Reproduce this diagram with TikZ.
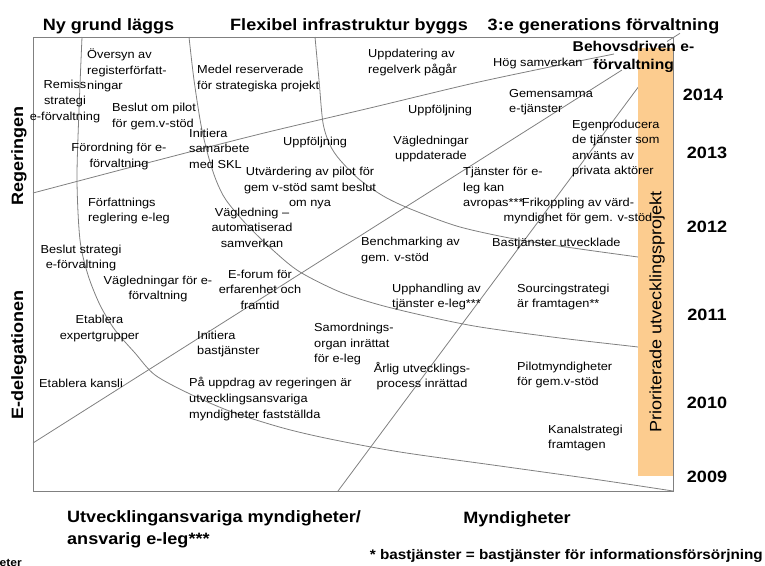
\documentclass[tikz,border=0pt]{standalone}
\usepackage{fontspec}
\setmainfont{Liberation Sans}[FakeStretch=1.1]
\definecolor{linegray}{RGB}{128,128,128}
\definecolor{prioorange}{RGB}{252,204,143}
\newcommand{\notefont}{\fontsize{11.6}{15.6}\selectfont}
\newcommand{\headfont}{\bfseries\fontsize{16.4}{22}\selectfont}
\tikzset{
	note/.style={inner sep=0pt, font=\notefont, align=left, anchor=west},
	cnote/.style={note, align=center, anchor=center},
	head/.style={inner sep=0pt, font=\headfont, anchor=base},
	actor/.style={inner sep=0pt, font=\headfont, rotate=90},
	year/.style={inner sep=0pt, font=\headfont, anchor=base},
	divider/.style={draw=linegray, line width=0.8pt},
	priobar/.style={fill=prioorange, draw=none}
}

\begin{document}
\begin{tikzpicture}[x=1pt,y=-1pt]
		\useasboundingbox (0,0) rectangle (765,565);
		
		%%%frame corners
		\coordinate (fnw) at (33,37);
		\coordinate (fse) at (673,491);
		
		%%%phase curves
		\draw[divider] plot[smooth] coordinates {(82,37) (79,110) (77,180) (80,240) (88,275) (100,305) (115,330) (135,353) (155,375) (190,394) (232,412) (283,428) (330,439) (400,452) (500,466) (600,480) (673,491)};
		\draw[divider] plot[smooth] coordinates {(189,37) (194,80) (201,125) (208,155) (216,180) (226,200) (247,225) (275,252) (300,272) (340,292) (380,305) (430,317) (480,327) (560,338) (638,347) (660,350)};
		\draw[divider] plot[smooth] coordinates {(315,37) (319,80) (323,123) (330,145) (340,160) (360,180) (385,197) (413,210) (460,227) (520,240) (580,249) (638,257) (660,260)};
		
		%%%actor lines
		\draw[divider] plot[smooth] coordinates {(33,193) (147,163) (260,134) (370,108) (470,84) (545,68) (614,54)};
		\coordinate (b0) at (33,443);
		\coordinate (b1) at (622,70);
		\coordinate (b2) at (667,41.5);
		\coordinate (b3) at (680,33.3);
		\draw[divider] (b0) -- (b1) (b2) -- (b3);
		\coordinate (c0) at (338,491);
		\coordinate (c1) at (645,78);
		\draw[divider] (c0) -- (c1);
		
		%%%prioriterade
		\fill[priobar] (638,48) rectangle (672.5,476);
		\draw[divider] (fnw) rectangle (fse);
		\node[inner sep=0pt, font=\fontsize{16.4}{18}\selectfont, rotate=90] (prio) at (657,312) {Prioriterade utvecklingsprojekt};
		
		%%%headings
		\node[head] (nygrund) at (108.5,30) {Ny grund läggs};
		\node[head] (flexibel) at (349,30) {Flexibel infrastruktur byggs};
		\node[head] (tredje) at (603.5,30) {3:e generations förvaltning};
		\node[inner sep=0pt, font=\bfseries\fontsize{14.2}{18}\selectfont, align=center] (behov) at (633.5,57.3) {Behovsdriven e-\\förvaltning};
		\node[actor] (regeringen) at (19,156) {Regeringen};
		\node[actor] (edeleg) at (19,355) {E-delegationen};
		\node[head, anchor=west, align=left] (utvansv) at (67,529.7) {Utvecklingansvariga myndigheter/\\ansvarig e-leg***};
		\node[head] (myndigheter) at (517,523) {Myndigheter};
		\node[inner sep=0pt, font=\bfseries\fontsize{13.9}{16}\selectfont, anchor=base east] (fotnot) at (763,559) {* bastjänster = bastjänster för informationsförsörjning};
		\node[inner sep=0pt, font=\bfseries\fontsize{11}{13}\selectfont, anchor=base east] (eter) at (22,566) {eter};
		
		\foreach \yr/\xx/\yy in {2014/703/100, 2013/707/158, 2012/707/232.5, 2011/707/320, 2010/707/408, 2009/707/482}
			\node[year] (y\yr) at (\xx,\yy) {\yr};
		
		%%%Ny grund
		\node[note] (oversyn) at (87,70.5) {Översyn av\\registerförfatt-\\ningar};
		\node[cnote] (remiss) at (65,101.5) {Remiss\\strategi\\e-förvaltning};
		\node[note] (beslutpilot) at (112,116.5) {Beslut om pilot\\för gem.v-stöd};
		\node[cnote] (forordning) at (119,156.5) {Förordning för e-\\förvaltning};
		\node[note] (forfattning) at (88,211) {Författnings\\reglering e-leg};
		\node[cnote] (beslutstrat) at (81,258) {Beslut strategi\\e-förvaltning};
		\node[cnote] (vagledn) at (158,289) {Vägledningar för e-\\förvaltning};
		\node[cnote] (expert) at (99.5,328.5) {Etablera\\expertgrupper};
		\node[note] (kansli) at (39,383) {Etablera kansli};
		
		%%%Flexibel infrastruktur
		\node[note] (initskl) at (189,148.5) {Initiera\\samarbete\\med SKL};
		\node[note] (medel) at (197,78.5) {Medel reserverade\\för strategiska projekt};
		\node[note] (uppf1) at (283,142) {Uppföljning};
		\node[cnote] (utvard) at (310,188) {Utvärdering av pilot för\\gem v-stöd samt beslut\\om nya};
		\node[cnote] (autosam) at (252,227.5) {Vägledning –\\automatiserad\\samverkan};
		\node[cnote] (eforum) at (260,289.5) {E-forum för\\erfarenhet och\\framtid};
		\node[note] (initbas) at (197,344) {Initiera\\bastjänster};
		\node[note] (uppdrag) at (189,399) {På uppdrag av regeringen är\\utvecklingsansvariga\\myndigheter fastställda};
		\node[note] (samordn) at (314,344) {Samordnings-\\organ inrättat\\för e-leg};
		\node[note] (benchm) at (361,250.5) {Benchmarking av\\gem. v-stöd};
		\node[note] (upphandl) at (392,297) {Upphandling av\\tjänster e-leg***};
		\node[cnote] (arlig) at (422,376) {Årlig utvecklings-\\process inrättad};
		
		%%%3:e generation
		\node[note] (regelverk) at (368,62.5) {Uppdatering av\\regelverk pågår};
		\node[note] (uppf2) at (408,110) {Uppföljning};
		\node[cnote] (vagluppd) at (431,149) {Vägledningar\\uppdaterade};
		\node[note] (tjanster) at (463,188) {Tjänster för e-\\leg kan\\avropas***};
		\node[cnote] (frikoppl) at (578,211) {Frikoppling av värd-\\myndighet för gem. v-stöd};
		\node[note] (hog) at (493,63) {Hög samverkan};
		\node[note] (gemensam) at (509,102) {Gemensamma\\e-tjänster};
		\node[note] (egenprod) at (572,148.5) {Egenproducera\\de tjänster som\\använts av\\privata aktörer};
		\node[note] (bastutv) at (492,243) {Bastjänster utvecklade};
		\node[note] (sourcing) at (517,297) {Sourcingstrategi\\är framtagen**};
		\node[note] (pilotmynd) at (517,375) {Pilotmyndigheter\\för gem.v-stöd};
		\node[note] (kanal) at (548,438) {Kanalstrategi\\framtagen};
\end{tikzpicture}
\end{document}
